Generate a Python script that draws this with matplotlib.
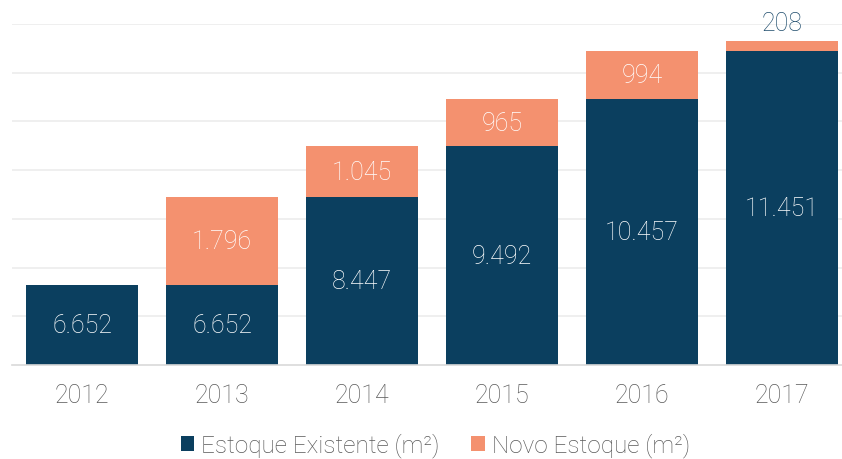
import numpy as np
import matplotlib.pyplot as plt

plt.rcParams['font.family'] = ['Roboto', 'DejaVu Sans']

# Data
anos = ['2012', '2013', '2014', '2015', '2016', '2017']
estoque_existente = [6652, 6652, 8447, 9492, 10457, 11451]
novo_estoque = [0, 1796, 1045, 965, 994, 208]
rotulos_existente = ['6.652', '6.652', '8.447', '9.492', '10.457', '11.451']
rotulos_novo = ['', '1.796', '1.045', '965', '994', '208']

navy = '#0b3f5f'
salmon = '#f4916f'
y_min, y_max = 5000, 12000

fig = plt.figure(figsize=(8.42, 4.6), dpi=100)
ax = fig.add_axes([12 / 842, 94 / 460, 840 / 842, 341 / 460])

x = np.arange(len(anos))
ax.bar(x, estoque_existente, width=0.8, color=navy, label='Estoque Existente (m²)', zorder=2)
ax.bar(x, novo_estoque, width=0.8, bottom=estoque_existente, color=salmon,
       label='Novo Estoque (m²)', zorder=2)

# value labels
for i in range(len(anos)):
    ax.text(x[i], (y_min + estoque_existente[i]) / 2, rotulos_existente[i], ha='center', va='center',
            color='white', fontsize=18, fontweight='light', zorder=3)
    if novo_estoque[i] == 0:
        continue
    top = estoque_existente[i] + novo_estoque[i]
    if novo_estoque[i] > 500:
        ax.text(x[i], estoque_existente[i] + novo_estoque[i] / 2, rotulos_novo[i], ha='center',
                va='center', color='white', fontsize=18, fontweight='light', zorder=3)
    else:
        ax.annotate(rotulos_novo[i], (x[i], top), xytext=(0, 4), textcoords='offset points',
                    ha='center', va='bottom', color='#1f4d6d', fontsize=18, fontweight='light')

ax.set_ylim(y_min, y_max)
ax.set_xlim(-0.5, len(anos) - 0.5)
ax.set_yticks(np.arange(6000, 12001, 1000))
ax.yaxis.grid(True, color='#ececec', linewidth=1.2, zorder=0)
ax.set_axisbelow(True)
ax.tick_params(axis='y', left=False, labelleft=False)
ax.tick_params(axis='x', length=0, pad=13, labelsize=18, labelcolor='#595959')
ax.set_xticks(x)
ax.set_xticklabels(anos, fontweight='light')
for s in ['top', 'right', 'left']:
    ax.spines[s].set_visible(False)
ax.spines['bottom'].set_color('#d9d9d9')
ax.spines['bottom'].set_linewidth(1.2)

leg = fig.legend(loc='center', bbox_to_anchor=(0.517, 14 / 460), ncol=2, frameon=False,
                 handlelength=0.55, handleheight=0.55, handletextpad=0.3,
                 columnspacing=1.3, prop={'weight': 'light', 'size': 17.5})
for t in leg.get_texts():
    t.set_color('#595959')

fig.savefig('out.png', dpi=100)
